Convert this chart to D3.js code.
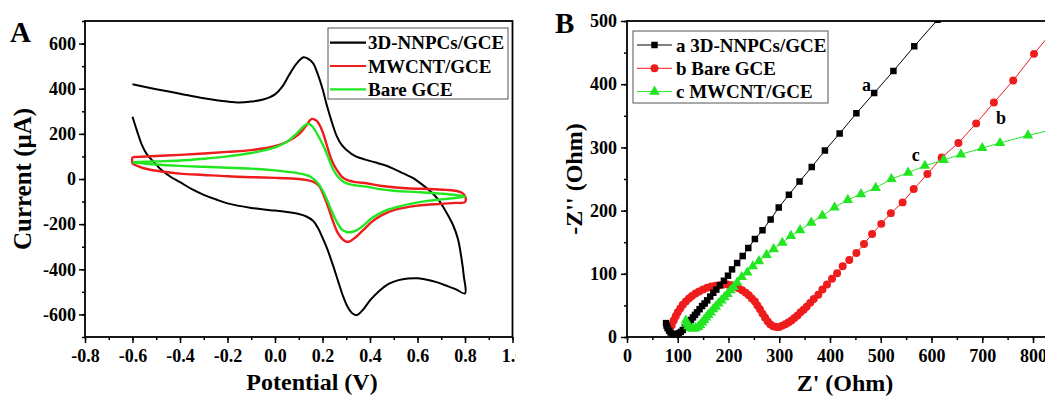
<!DOCTYPE html>
<html>
<head>
<meta charset="utf-8">
<script src="https://cdn.jsdelivr.net/npm/d3@7"></script>
<style>
  body { margin: 0; background: #fff; }
  text { font-family: "Liberation Serif", "Times New Roman", serif; font-weight: bold; fill: #000; }
</style>
</head>
<body>
<svg id="chart" width="1045" height="399"></svg>
<script>
// ---- panel A: cyclic voltammetry (potential V, current uA) ----
const cvNames = ["3D-NNPCs/GCE", "MWCNT/GCE", "Bare GCE"];
const cvColors = ["#000000", "#ee1c1c", "#22e622"];

const cvNNPC = [
  [-0.6,420],[-0.5,398],[-0.4,378],[-0.3,358],[-0.2,343],[-0.15,339],[-0.1,343],[-0.05,352],
  [0.0,375],[0.03,408],[0.06,462],[0.09,510],[0.12,539],[0.14,532],[0.16,513],[0.18,465],
  [0.2,400],[0.22,320],[0.24,250],[0.26,190],[0.28,152],[0.3,130],[0.34,100],[0.38,86],
  [0.42,74],[0.46,62],[0.5,45],[0.54,25],[0.58,5],[0.62,-25],[0.66,-60],[0.69,-95],
  [0.72,-145],[0.75,-205],[0.77,-265],[0.785,-350],[0.795,-430],[0.8,-507],
  [0.76,-488],[0.72,-472],[0.68,-457],[0.64,-446],[0.6,-440],[0.56,-441],[0.52,-448],
  [0.48,-464],[0.44,-495],[0.4,-538],[0.37,-580],[0.345,-603],[0.325,-595],[0.305,-565],
  [0.285,-515],[0.265,-450],[0.245,-385],[0.22,-310],[0.2,-260],[0.18,-215],[0.16,-185],
  [0.13,-165],[0.1,-155],[0.05,-146],[0.0,-140],[-0.1,-128],[-0.2,-108],[-0.25,-90],
  [-0.3,-70],[-0.35,-45],[-0.4,-14],[-0.44,10],[-0.48,42],[-0.51,75],[-0.54,110],
  [-0.56,150],[-0.58,210],[-0.6,276]
];

const cvMWCNT = [
  [-0.6,97],[-0.5,102],[-0.4,107],[-0.3,113],[-0.2,120],[-0.1,128],[0.0,145],[0.05,165],
  [0.1,198],[0.13,235],[0.155,266],[0.175,258],[0.19,235],[0.205,195],[0.224,129],[0.24,80],
  [0.26,40],[0.28,12],[0.302,-4],[0.34,-14],[0.386,-19],[0.442,-30],[0.57,-42],[0.65,-44],
  [0.72,-48],[0.765,-53],[0.785,-60],[0.8,-75],[0.8,-102],
  [0.76,-106],[0.7,-110],[0.6,-118],[0.5,-138],[0.45,-160],[0.41,-188],[0.37,-228],
  [0.34,-258],[0.315,-276],[0.3,-278],[0.285,-268],[0.265,-240],[0.245,-190],[0.225,-128],
  [0.205,-72],[0.185,-30],[0.16,-12],[0.13,-4],[0.1,0],[0.0,5],[-0.1,8],[-0.2,12],
  [-0.3,18],[-0.4,24],[-0.47,32],[-0.53,42],[-0.57,54],[-0.6,70],[-0.6,97]
];

const cvBare = [
  [-0.6,74],[-0.5,78],[-0.4,82],[-0.3,90],[-0.2,100],[-0.1,115],[-0.05,126],[0.0,140],
  [0.05,165],[0.09,200],[0.115,228],[0.135,244],[0.15,240],[0.165,222],[0.18,195],[0.2,155],
  [0.215,120],[0.23,80],[0.246,40],[0.265,10],[0.288,-12],[0.32,-25],[0.386,-34],[0.44,-45],
  [0.5,-52],[0.6,-58],[0.7,-65],[0.76,-71],[0.8,-78],
  [0.76,-84],[0.72,-88],[0.65,-96],[0.58,-108],[0.52,-122],[0.46,-142],[0.41,-172],
  [0.37,-208],[0.34,-229],[0.318,-236],[0.3,-234],[0.28,-222],[0.26,-190],[0.24,-145],
  [0.22,-95],[0.2,-50],[0.18,-18],[0.15,10],[0.1,25],[0.05,32],[0.0,38],[-0.1,46],
  [-0.2,50],[-0.3,54],[-0.4,58],[-0.5,64],[-0.6,74]
];

const xTicksA = [-0.8,-0.6,-0.4,-0.2,0.0,0.2,0.4,0.6,0.8,1.0];
const xTickLabelsA = ["-0.8","-0.6","-0.4","-0.2","0.0","0.2","0.4","0.6","0.8","1.0"];
const yTicksA = [600,400,200,0,-200,-400,-600];
const yTickLabelsA = ["600","400","200","0","-200","-400","-600"];

// ---- panel B: Nyquist plot (Z' Ohm, -Z'' Ohm) ----
const eisNames = ["a 3D-NNPCs/GCE", "b Bare GCE", "c MWCNT/GCE"];
const eisColors = ["#000000", "#ee1c1c", "#22e622"];

const eisNNPC = [
  [77,22],[78,18],[80,14],[83,10],[86,7],[90,5],[94,4],[98,4],[102,6],[106,8],[110,11],
  [114,15],[118,19],[122,23],[126,27],[130,31],[134,35],[138,39],[143,44],[148,49],
  [153,53],[158,58],[164,64],[170,70],[176,75],[183,82],[191,89],[199,97],[207,107],
  [217,117],[228,128],[239,141],[252,155],[267,169],[283,186],[299,205],[319,225],
  [340,246],[364,269],[390,295],[419,322],[452,354],[487,386],[525,421],[566,460],[612,502]
];

const eisBare = [
  [88,18],[92,26],[96,33],[100,39],[105,45],[110,51],[116,56],[122,61],[128,65],[135,69],
  [142,72],[150,75],[158,78],[166,80],[174,81],[182,82],[190,83],[198,83],[206,82],[213,80],
  [220,77],[227,74],[234,70],[240,66],[246,61],[252,56],[257,50],[262,44],[267,37],[272,31],
  [277,25],[282,20],[288,17],[294,16],[300,16],[306,18],[312,20],[318,23],[324,26],[330,30],
  [336,34],[342,39],[348,43],[354,48],[361,54],[368,60],[377,67],[385,75],[394,83],[404,92],
  [414,101],[425,112],[438,122],[452,133],[467,147],[483,163],[501,179],[520,196],[543,213],
  [565,234],[592,258],[620,284],[653,307],[688,338],[723,371],[761,406],[802,448],[845,490]
];

const eisMWCNT = [
  [116,26],[118,21],[121,17],[125,14],[130,13],[135,14],[140,16],[144,19],[148,23],[152,27],
  [156,31],[160,35],[165,39],[170,44],[175,48],[180,53],[186,58],[192,63],[198,68],[204,74],
  [210,79],[217,86],[226,95],[237,102],[248,112],[260,120],[275,130],[289,139],[306,149],
  [323,160],[341,169],[363,181],[385,192],[409,205],[435,217],[461,226],[490,236],[521,250],
  [554,260],[587,271],[624,280],[658,289],[700,299],[735,307],[790,319],[850,330]
];

const xTicksB = [0,100,200,300,400,500,600,700,800];
const xTickLabelsB = ["0","100","200","300","400","500","600","700","800"];
const yTicksB = [0,100,200,300,400,500];
const yTickLabelsB = ["0","100","200","300","400","500"];

// curve labels a/b/c placed in data units
const curveTags = [["a", 472, 390], ["b", 737, 337], ["c", 569, 279]];

const svg = d3.select("#chart");

function styleAxis(g, size) {
  g.attr("font-family", null).attr("font-size", null);
  g.select(".domain").remove();
  g.selectAll(".tick line").attr("stroke", "#000").attr("stroke-width", 1.5);
  g.selectAll(".tick text").style("font-size", size + "px");
}

// ================= Panel A =================
const boxA = {left: 85, right: 512.5, top: 21, bottom: 337};
const xA = d3.scaleLinear().domain([-0.8, 1.0]).range([boxA.left, boxA.right]);
const yA = d3.scaleLinear().domain([-700, 700]).range([boxA.bottom, boxA.top]);

svg.append("defs").append("clipPath").attr("id", "clipA")
  .append("rect").attr("x", 0).attr("y", 0).attr("width", 516).attr("height", 399);

const gA = svg.append("g").attr("clip-path", "url(#clipA)");

gA.append("g").attr("transform", `translate(0,${boxA.bottom})`)
  .call(d3.axisBottom(xA).tickValues(xA.ticks(18)).tickFormat("").tickSize(3).tickSizeOuter(0))
  .call(g => styleAxis(g, 18));
gA.append("g").attr("transform", `translate(0,${boxA.bottom})`)
  .call(d3.axisBottom(xA).tickValues(xTicksA).tickFormat((d, i) => xTickLabelsA[i]).tickSize(6).tickPadding(6).tickSizeOuter(0))
  .call(g => styleAxis(g, 18));
gA.append("g").attr("transform", `translate(${boxA.left},0)`)
  .call(d3.axisLeft(yA).tickValues(yA.ticks(14)).tickFormat("").tickSize(3).tickSizeOuter(0))
  .call(g => styleAxis(g, 18));
gA.append("g").attr("transform", `translate(${boxA.left},0)`)
  .call(d3.axisLeft(yA).tickValues(yTicksA).tickFormat((d, i) => yTickLabelsA[i]).tickSize(6).tickPadding(3).tickSizeOuter(0))
  .call(g => styleAxis(g, 18));

const lineA = d3.line().x(d => xA(d[0])).y(d => yA(d[1])).curve(d3.curveCatmullRom.alpha(0.5));
[cvNNPC, cvMWCNT, cvBare].forEach((s, i) => {
  gA.append("path").attr("d", lineA(s)).attr("fill", "none")
    .attr("stroke", cvColors[i]).attr("stroke-width", i === 0 ? 2 : 2.4)
    .attr("stroke-linejoin", "round");
});

gA.append("rect").attr("x", boxA.left).attr("y", boxA.top)
  .attr("width", boxA.right - boxA.left).attr("height", boxA.bottom - boxA.top)
  .attr("fill", "none").attr("stroke", "#000").attr("stroke-width", 1.8);

// legend A
const legA = gA.append("g");
legA.append("rect").attr("x", 328).attr("y", 28).attr("width", 180).attr("height", 71)
  .attr("fill", "#fff").attr("stroke", "#555").attr("stroke-width", 1);
cvNames.forEach((n, i) => {
  const cy = 42.7 + i * 23.3;
  legA.append("line").attr("x1", 330).attr("x2", 366).attr("y1", cy).attr("y2", cy)
    .attr("stroke", cvColors[i]).attr("stroke-width", 2.2);
  legA.append("text").attr("x", 368).attr("y", cy + 6.5).style("font-size", "19px").text(n);
});

svg.append("text").attr("x", 312).attr("y", 390).attr("text-anchor", "middle")
  .style("font-size", "24px").text("Potential (V)");
svg.append("text").attr("transform", `translate(31,179) rotate(-90)`).attr("text-anchor", "middle")
  .style("font-size", "25px").text("Current (\u03bcA)");
svg.append("text").attr("x", 10).attr("y", 42).style("font-size", "29px").text("A");

// ================= Panel B =================
const boxB = {left: 627, top: 21, bottom: 337};
const xB = d3.scaleLinear().domain([0, 800]).range([627, 1033]);
const yB = d3.scaleLinear().domain([0, 500]).range([boxB.bottom, boxB.top]);
const rightB = xB(900);

svg.append("defs").append("clipPath").attr("id", "clipB")
  .append("rect").attr("x", boxB.left).attr("y", boxB.top).attr("width", rightB - boxB.left).attr("height", boxB.bottom - boxB.top + 3);

const gB = svg.append("g");
gB.append("g").attr("transform", `translate(0,${boxB.bottom})`)
  .call(d3.axisBottom(xB).tickValues(d3.range(0, 901, 50)).tickFormat("").tickSize(3).tickSizeOuter(0))
  .call(g => styleAxis(g, 18));
gB.append("g").attr("transform", `translate(0,${boxB.bottom})`)
  .call(d3.axisBottom(xB).tickValues(xTicksB).tickFormat((d, i) => xTickLabelsB[i]).tickSize(6).tickPadding(6).tickSizeOuter(0))
  .call(g => styleAxis(g, 18));
gB.append("g").attr("transform", `translate(${boxB.left},0)`)
  .call(d3.axisLeft(yB).tickValues(yB.ticks(10)).tickFormat("").tickSize(3).tickSizeOuter(0))
  .call(g => styleAxis(g, 18));
gB.append("g").attr("transform", `translate(${boxB.left},0)`)
  .call(d3.axisLeft(yB).tickValues(yTicksB).tickFormat((d, i) => yTickLabelsB[i]).tickSize(6).tickPadding(4).tickSizeOuter(0))
  .call(g => styleAxis(g, 18));

const plotB = gB.append("g").attr("clip-path", "url(#clipB)");
const lineB = d3.line().x(d => xB(d[0])).y(d => yB(d[1]));
const symTypes = [d3.symbolSquare, d3.symbolCircle, d3.symbolTriangle];
const symSizes = [42, 50, 48];
const eisSeries = [eisNNPC, eisBare, eisMWCNT];

[1, 0, 2].forEach(i => {
  const s = eisSeries[i];
  plotB.append("path").attr("d", lineB(s)).attr("fill", "none")
    .attr("stroke", eisColors[i]).attr("stroke-width", 1);
  plotB.append("g").selectAll("path").data(s).join("path")
    .attr("transform", d => `translate(${xB(d[0])},${yB(d[1])})`)
    .attr("d", d3.symbol().type(symTypes[i]).size(symSizes[i]))
    .attr("fill", eisColors[i]);
});

gB.append("rect").attr("x", boxB.left).attr("y", boxB.top)
  .attr("width", rightB - boxB.left).attr("height", boxB.bottom - boxB.top)
  .attr("fill", "none").attr("stroke", "#000").attr("stroke-width", 1.8);

curveTags.forEach(t => {
  gB.append("text").attr("x", xB(t[1])).attr("y", yB(t[2])).attr("text-anchor", "middle")
    .style("font-size", "18px").text(t[0]);
});

// legend B
const legB = gB.append("g");
legB.append("rect").attr("x", 633).attr("y", 31).attr("width", 195).attr("height", 72)
  .attr("fill", "#fff").attr("stroke", "#555").attr("stroke-width", 1);
eisNames.forEach((n, i) => {
  const cy = 45 + i * 23.3;
  legB.append("line").attr("x1", 637).attr("x2", 672).attr("y1", cy).attr("y2", cy)
    .attr("stroke", eisColors[i]).attr("stroke-width", 1);
  legB.append("path").attr("transform", `translate(654.5,${cy})`)
    .attr("d", d3.symbol().type(symTypes[i]).size(symSizes[i])).attr("fill", eisColors[i]);
  legB.append("text").attr("x", 676).attr("y", cy + 6.5).style("font-size", "19px").text(n);
});

svg.append("text").attr("x", 845).attr("y", 391).attr("text-anchor", "middle")
  .style("font-size", "24px").text("Z' (Ohm)");
svg.append("text").attr("transform", `translate(582,179) rotate(-90)`).attr("text-anchor", "middle")
  .style("font-size", "24px").text("-Z'' (Ohm)");
svg.append("text").attr("x", 555).attr("y", 33).style("font-size", "29px").text("B");
</script>
</body>
</html>
